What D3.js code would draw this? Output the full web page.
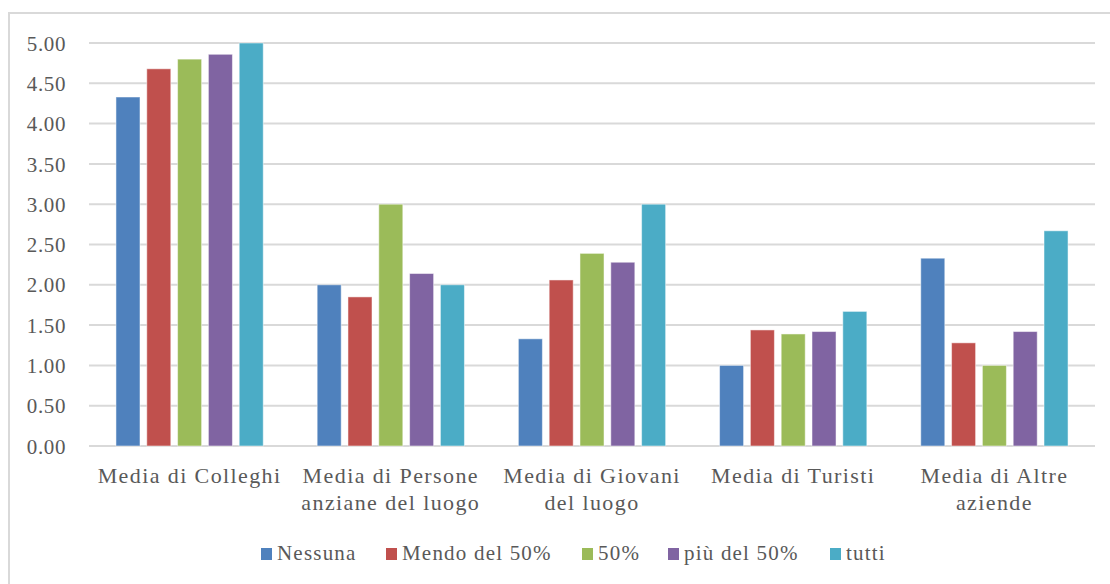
<!DOCTYPE html>
<html>
<head>
<meta charset="utf-8">
<script src="https://cdn.jsdelivr.net/npm/d3@7"></script>
<style>
  html, body { margin: 0; padding: 0; background: #fff; }
  svg { display: block; }
</style>
</head>
<body>
<svg id="chart" width="1110" height="584"></svg>
<script>
// Categories (each label split into lines)
const categories = [
  ["Media di Colleghi"],
  ["Media di Persone", "anziane del luogo"],
  ["Media di Giovani", "del luogo"],
  ["Media di Turisti"],
  ["Media di Altre", "aziende"]
];
const seriesNames = ["Nessuna", "Mendo del 50%", "50%", "più del 50%", "tutti"];
const seriesColors = ["#4F81BD", "#C0504D", "#9BBB59", "#8064A2", "#4BACC6"];

// Values per series, one per category
const nessuna   = [4.33, 2.00, 1.33, 1.00, 2.33];
const mendo50   = [4.68, 1.85, 2.06, 1.44, 1.28];
const pari50    = [4.80, 3.00, 2.39, 1.39, 1.00];
const piuDel50  = [4.86, 2.14, 2.28, 1.42, 1.42];
const tutti     = [5.00, 2.00, 3.00, 1.67, 2.67];
const seriesValues = [nessuna, mendo50, pari50, piuDel50, tutti];

const yTicks = [0, 0.5, 1, 1.5, 2, 2.5, 3, 3.5, 4, 4.5, 5];

const FONT = "Liberation Serif";
const TEXT_COLOR = "#595959";

const svg = d3.select("#chart");
const plot = { left: 89, right: 1095, top: 43, bottom: 446 };

// Outer frame (top and left edges visible)
svg.append("path")
  .attr("d", "M9,584 L9,13 L1110,13")
  .attr("fill", "none")
  .attr("stroke", "#D9D9D9")
  .attr("stroke-width", 2);

const x0 = d3.scaleBand()
  .domain(d3.range(categories.length))
  .range([plot.left, plot.right])
  .paddingInner(0.268)
  .paddingOuter(0.134);

const x1 = d3.scaleBand()
  .domain(d3.range(seriesNames.length))
  .range([0, x0.bandwidth()])
  .paddingInner(0.22);

const y = d3.scaleLinear().domain([0, 5]).range([plot.bottom, plot.top]);

// Horizontal gridlines
svg.append("g")
  .selectAll("line")
  .data(yTicks)
  .join("line")
  .attr("x1", plot.left)
  .attr("x2", plot.right)
  .attr("y1", d => y(d))
  .attr("y2", d => y(d))
  .attr("stroke", "#D9D9D9")
  .attr("stroke-width", 2);

// Y axis labels
const yAxis = d3.axisLeft(y).tickValues(yTicks).tickFormat(d3.format(".2f")).tickSize(0).tickPadding(0);
const yg = svg.append("g").attr("transform", "translate(66,0)").call(yAxis);
yg.select(".domain").remove();
yg.attr("font-family", null).attr("font-size", null);
yg.selectAll("text")
  .attr("dy", "0.34em")
  .style("font-family", FONT)
  .style("font-size", "21px")
  .style("letter-spacing", "0.6px")
  .style("fill", TEXT_COLOR);

// Bars
const groups = svg.append("g")
  .selectAll("g")
  .data(categories.map((c, i) => i))
  .join("g")
  .attr("transform", i => `translate(${x0(i)},0)`);

groups.selectAll("rect")
  .data(i => seriesValues.map((vals, s) => ({ s, v: vals[i] })))
  .join("rect")
  .attr("x", d => x1(d.s))
  .attr("width", x1.bandwidth())
  .attr("y", d => y(d.v))
  .attr("height", d => y(0) - y(d.v))
  .attr("fill", d => seriesColors[d.s])
  .attr("stroke", "#ffffff")
  .attr("stroke-opacity", 0.5)
  .attr("stroke-width", 1);

// Category labels
const catG = svg.append("g");
categories.forEach((lines, i) => {
  const cx = x0(i) + x0.bandwidth() / 2;
  const t = catG.append("text")
    .attr("x", cx)
    .attr("y", 483)
    .attr("text-anchor", "middle")
    .style("font-family", FONT)
    .style("font-size", "22px")
    .style("letter-spacing", "1.4px")
    .style("fill", TEXT_COLOR);
  lines.forEach((ln, k) => {
    t.append("tspan")
      .attr("x", cx)
      .attr("dy", k === 0 ? 0 : 27)
      .text(ln);
  });
});

// Legend
const legendX = [261, 386, 582, 668, 830];
const legend = svg.append("g");
seriesNames.forEach((name, s) => {
  legend.append("rect")
    .attr("x", legendX[s])
    .attr("y", 548)
    .attr("width", 11)
    .attr("height", 12)
    .attr("fill", seriesColors[s]);
  legend.append("text")
    .attr("x", legendX[s] + 16)
    .attr("y", 560)
    .style("font-family", FONT)
    .style("font-size", "21px")
    .style("letter-spacing", "1.2px")
    .style("fill", TEXT_COLOR)
    .text(name);
});
</script>
</body>
</html>
